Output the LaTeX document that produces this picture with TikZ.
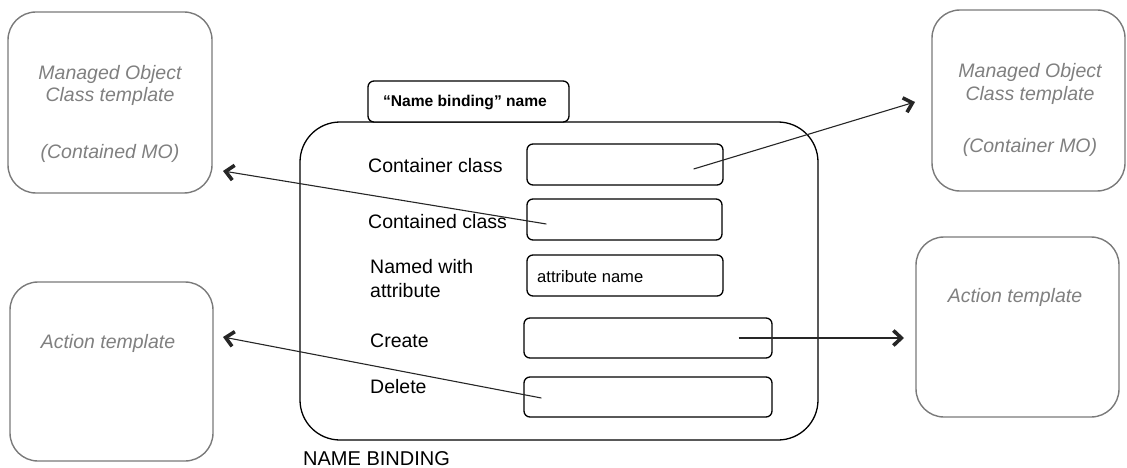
\documentclass[tikz,border=0pt]{standalone}
\usepackage{fontspec}
\setmainfont{Liberation Sans}
\usetikzlibrary{arrows.meta,positioning}
\definecolor{tplgray}{HTML}{7A7A7A}
\definecolor{tpltext}{HTML}{808080}
\tikzset{
  template/.style={draw=tplgray, line width=1.4pt, rounded corners=28pt,
    fill=white, inner sep=0pt},
  tpltxt/.style={text=tpltext, font=\fontsize{19.5}{23}\itshape\selectfont,
    anchor=base, inner sep=0pt},
  bindbox/.style={draw=black, line width=1.3pt, rounded corners=40pt, inner sep=0pt},
  field/.style={draw=black, line width=1.3pt, rounded corners=6pt, fill=white,
    inner sep=0pt},
  lbl/.style={font=\fontsize{19.5}{23}\selectfont, anchor=base west, inner sep=0pt},
  link/.style={draw=black!85, line width=1.1pt,
    -{Straight Barb[length=8pt,width=15pt,line width=3.6pt]}},
}
\begin{document}
\begin{tikzpicture}[x=1pt,y=-1pt]
\useasboundingbox (0,0) rectangle (1127,468);

% external templates
\node[template, minimum width=204pt, minimum height=181pt] (moL) at (110,102.5) {};
\node[template, minimum width=203pt, minimum height=179pt] (actL) at (111.5,371.5) {};
\node[template, minimum width=193pt, minimum height=181pt] (moR) at (1028.5,100.5) {};
\node[template, minimum width=203pt, minimum height=180pt] (actR) at (1017.5,327) {};

\node[tpltxt] (moL1) at (110,80) {Managed Object};
\node[tpltxt] (moL2) at (110,102) {Class template};
\node[tpltxt] (moL3) at (110,158) {(Contained MO)};
\node[tpltxt] (moR1) at (1030,78) {Managed Object};
\node[tpltxt] (moR2) at (1030,101) {Class template};
\node[tpltxt] (moR3) at (1030,153) {(Container MO)};
\node[tpltxt] (actLt) at (108,348) {Action template};
\node[tpltxt] (actRt) at (1015,302) {Action template};

% name binding frame
\node[bindbox, minimum width=518pt, minimum height=318pt] (nb) at (559,281) {};
\node[field, minimum width=201pt, minimum height=41pt] (tab) at (468.5,101.5) {};
\node[font=\fontsize{15.6}{19}\bfseries\selectfont, anchor=base, inner sep=0pt]
  (tabt) at (465,107) {“Name binding” name};
\node[font=\fontsize{20}{24}\selectfont, anchor=base west, inner sep=0pt]
  (nbt) at (303,465) {NAME BINDING};

% rows
\node[lbl] (l1) at (368,172.5) {Container class};
\node[lbl] (l2) at (368,228) {Contained class};
\node[lbl] (l3a) at (370,273.5) {Named with};
\node[lbl] (l3b) at (370,297) {attribute};
\node[lbl] (l4) at (370,347) {Create};
\node[lbl] (l5) at (370,393) {Delete};

\node[field, minimum width=196pt, minimum height=41pt] (f1) at (625,164.5) {};
\node[field, minimum width=195pt, minimum height=41pt] (f2) at (624.5,219.5) {};
\node[field, minimum width=196pt, minimum height=41pt] (f3) at (625,275.5) {};
\node[field, minimum width=248pt, minimum height=40pt] (f4) at (648,338) {};
\node[field, minimum width=248pt, minimum height=40pt] (f5) at (648,397) {};
\node[font=\fontsize{16.6}{20}\selectfont, anchor=base west, inner sep=0pt]
  (f3t) at (537,282) {attribute name};

% connectors
\coordinate (tipMoL) at (223,171);
\coordinate (tipMoR) at (915,102);
\coordinate (tipActL) at (223,337);
\coordinate (tipActR) at (904,338);

\draw[link] ([xshift=20pt,yshift=-4.5pt]f2.west) -- (tipMoL);
\draw[link] ([xshift=-30pt,yshift=-4.5pt]f1.east) -- (tipMoR);
\draw[link] ([xshift=18pt,yshift=-1pt]f5.west) -- (tipActL);
\draw[link] ([xshift=-34pt]f4.east) -- (tipActR);
\end{tikzpicture}
\end{document}
